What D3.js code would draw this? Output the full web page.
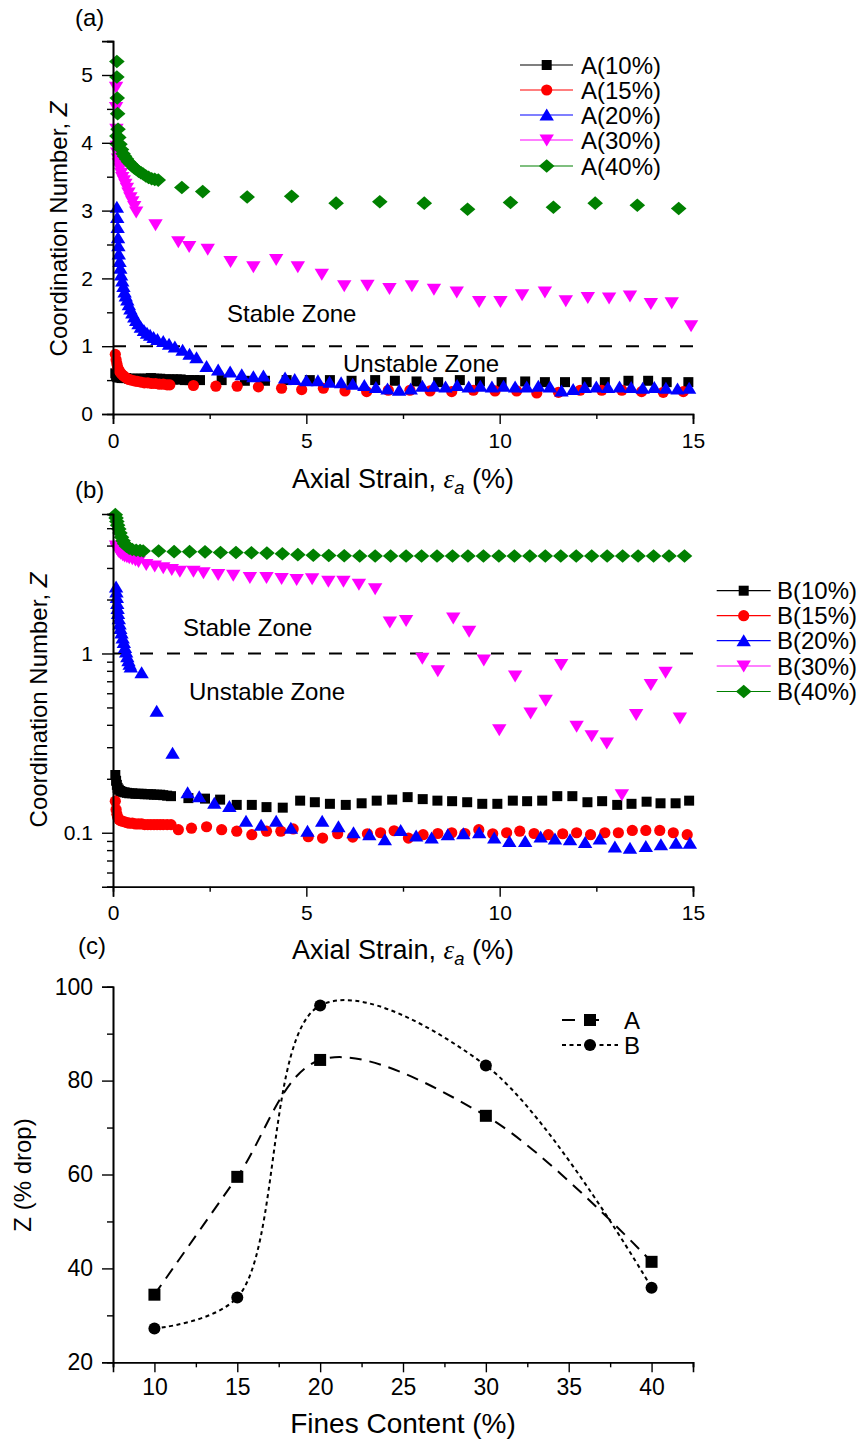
<!DOCTYPE html>
<html><head><meta charset="utf-8">
<script src="https://cdn.jsdelivr.net/npm/d3@7"></script>
<style>body{margin:0;background:#fff}svg{display:block}text{font-family:"Liberation Sans",Arial,sans-serif;fill:#000}</style>
</head><body>
<script>
// ---------------- DATA ----------------
// Panel (a): sample A, [axial strain %, coordination number Z]
const A10 = [[0.06,0.6],[0.08,0.57],[0.1,0.55],[0.13,0.54],[0.17,0.54],[0.22,0.53],[0.28,0.53],[0.34,0.53],[0.42,0.52],[0.5,0.52],[0.58,0.52],[0.66,0.52],[0.74,0.52],[0.82,0.52],[0.9,0.52],[0.98,0.53],[1.06,0.52],[1.14,0.52],[1.22,0.52],[1.3,0.51],[1.38,0.51],[1.46,0.51],[1.55,0.51],[1.65,0.51],[1.75,0.51],[1.86,0.5],[1.98,0.5],[2.1,0.5],[2.25,0.5],[2.81,0.5],[3.41,0.49],[3.93,0.49],[4.49,0.5],[5.09,0.5],[5.61,0.5],[6.17,0.49],[6.78,0.5],[7.29,0.49],[7.85,0.48],[8.41,0.47],[8.97,0.5],[9.49,0.48],[10.05,0.47],[10.66,0.48],[11.17,0.47],[11.69,0.47],[12.25,0.47],[12.72,0.47],[13.33,0.49],[13.84,0.49],[14.32,0.47],[14.88,0.47]];
const A15 = [[0.06,0.88],[0.08,0.8],[0.1,0.74],[0.12,0.69],[0.15,0.65],[0.18,0.62],[0.22,0.59],[0.26,0.57],[0.3,0.55],[0.35,0.53],[0.41,0.51],[0.47,0.5],[0.55,0.49],[0.63,0.48],[0.72,0.47],[0.81,0.46],[0.9,0.46],[1.0,0.45],[1.1,0.45],[1.2,0.44],[1.3,0.44],[1.4,0.43],[1.47,0.43],[2.08,0.42],[2.66,0.41],[3.21,0.41],[3.76,0.4],[4.36,0.38],[4.88,0.36],[5.44,0.38],[6.0,0.34],[6.56,0.33],[7.12,0.35],[7.68,0.35],[8.2,0.34],[8.76,0.33],[9.32,0.35],[9.88,0.34],[10.44,0.34],[10.96,0.31],[11.52,0.32],[12.08,0.35],[12.64,0.35],[13.16,0.35],[13.67,0.33],[14.23,0.32],[14.75,0.33]];
const A20 = [[0.1,3.05],[0.11,2.9],[0.12,2.75],[0.13,2.6],[0.14,2.48],[0.15,2.36],[0.17,2.25],[0.19,2.15],[0.21,2.05],[0.24,1.96],[0.27,1.88],[0.3,1.8],[0.33,1.74],[0.37,1.68],[0.41,1.61],[0.45,1.55],[0.5,1.49],[0.55,1.43],[0.6,1.38],[0.66,1.33],[0.72,1.28],[0.8,1.23],[0.88,1.19],[0.96,1.16],[1.05,1.13],[1.15,1.1],[1.3,1.07],[1.45,1.03],[1.6,0.99],[1.8,0.94],[1.98,0.88],[2.16,0.83],[2.42,0.7],[2.72,0.65],[3.03,0.62],[3.33,0.58],[3.63,0.55],[3.89,0.56],[4.45,0.53],[4.7,0.51],[5.0,0.49],[5.3,0.49],[5.6,0.47],[5.9,0.46],[6.2,0.44],[6.5,0.42],[6.8,0.39],[7.1,0.37],[7.4,0.35],[7.7,0.37],[8.0,0.41],[8.3,0.41],[8.6,0.4],[8.9,0.42],[9.2,0.4],[9.5,0.41],[9.8,0.4],[10.1,0.41],[10.4,0.4],[10.7,0.4],[11.0,0.41],[11.3,0.4],[11.6,0.34],[11.9,0.36],[12.2,0.39],[12.5,0.4],[12.8,0.39],[13.1,0.4],[13.4,0.39],[13.7,0.38],[14.0,0.39],[14.3,0.38],[14.6,0.37],[14.9,0.38]];
const A30 = [[0.08,4.82],[0.08,4.52],[0.09,4.2],[0.1,3.95],[0.11,3.85],[0.13,3.76],[0.15,3.69],[0.18,3.62],[0.21,3.55],[0.24,3.49],[0.28,3.44],[0.32,3.39],[0.36,3.33],[0.4,3.26],[0.45,3.19],[0.5,3.13],[0.55,3.06],[0.6,2.98],[1.1,2.79],[1.69,2.54],[1.97,2.47],[2.45,2.43],[3.04,2.25],[3.63,2.17],[4.22,2.28],[4.78,2.17],[5.4,2.06],[5.98,1.89],[6.58,1.9],[7.15,1.85],[7.73,1.89],[8.3,1.84],[8.89,1.8],[9.47,1.66],[10.02,1.66],[10.58,1.76],[11.17,1.8],[11.71,1.67],[12.28,1.72],[12.83,1.71],[13.37,1.74],[13.91,1.63],[14.45,1.64],[14.95,1.3]];
const A40 = [[0.1,5.2],[0.1,4.97],[0.11,4.66],[0.12,4.43],[0.1,4.1],[0.11,3.98],[0.13,4.2],[0.15,4.08],[0.18,3.98],[0.22,3.9],[0.26,3.84],[0.3,3.8],[0.35,3.76],[0.4,3.72],[0.45,3.69],[0.5,3.66],[0.55,3.63],[0.6,3.61],[0.66,3.58],[0.72,3.56],[0.78,3.54],[0.85,3.51],[0.92,3.49],[1.0,3.47],[1.08,3.46],[1.17,3.45],[1.78,3.34],[2.32,3.28],[3.47,3.2],[4.62,3.21],[5.77,3.11],[6.9,3.13],[8.05,3.11],[9.17,3.02],[10.28,3.12],[11.39,3.05],[12.47,3.11],[13.56,3.08],[14.63,3.03]];
// Panel (b): sample B
const B10 = [[0.06,0.21],[0.08,0.195],[0.1,0.185],[0.12,0.178],[0.15,0.174],[0.19,0.171],[0.24,0.169],[0.3,0.168],[0.36,0.167],[0.42,0.166],[0.5,0.166],[0.58,0.165],[0.66,0.165],[0.74,0.165],[0.82,0.164],[0.9,0.164],[0.98,0.164],[1.06,0.163],[1.14,0.163],[1.22,0.163],[1.3,0.162],[1.4,0.161],[1.5,0.16],[1.95,0.156],[2.38,0.155],[2.77,0.153],[3.2,0.143],[3.59,0.143],[3.97,0.139],[4.39,0.138],[4.84,0.151],[5.22,0.148],[5.61,0.145],[6.02,0.143],[6.43,0.146],[6.82,0.151],[7.22,0.153],[7.62,0.158],[8.01,0.154],[8.39,0.151],[8.77,0.15],[9.16,0.148],[9.55,0.145],[9.94,0.145],[10.34,0.151],[10.71,0.15],[11.1,0.151],[11.49,0.16],[11.88,0.16],[12.27,0.148],[12.65,0.15],[13.04,0.143],[13.41,0.145],[13.8,0.149],[14.16,0.146],[14.55,0.146],[14.9,0.151]];
const B15 = [[0.06,0.15],[0.08,0.135],[0.1,0.127],[0.12,0.122],[0.15,0.119],[0.19,0.117],[0.24,0.116],[0.3,0.115],[0.36,0.114],[0.42,0.113],[0.5,0.113],[0.58,0.112],[0.66,0.112],[0.74,0.112],[0.82,0.111],[0.9,0.111],[0.98,0.111],[1.06,0.111],[1.14,0.111],[1.22,0.111],[1.3,0.111],[1.4,0.111],[1.5,0.111],[1.69,0.104],[2.03,0.106],[2.42,0.108],[2.81,0.104],[3.2,0.102],[3.59,0.0975],[3.97,0.102],[4.34,0.102],[4.66,0.105],[5.05,0.095],[5.42,0.0934],[5.81,0.0987],[6.2,0.0946],[6.58,0.0987],[6.92,0.1],[7.27,0.1026],[7.64,0.0934],[8.02,0.0975],[8.4,0.099],[8.76,0.1],[9.1,0.099],[9.46,0.104],[9.82,0.0987],[10.18,0.1],[10.52,0.102],[10.89,0.099],[11.26,0.0975],[11.63,0.0987],[11.99,0.1],[12.35,0.0975],[12.72,0.1],[13.07,0.1],[13.43,0.103],[13.78,0.103],[14.14,0.103],[14.49,0.1],[14.85,0.0975]];
const B20 = [[0.08,2.35],[0.09,2.2],[0.1,2.05],[0.11,1.9],[0.12,1.78],[0.13,1.67],[0.15,1.56],[0.17,1.46],[0.19,1.38],[0.22,1.3],[0.25,1.22],[0.28,1.15],[0.31,1.08],[0.34,1.02],[0.37,0.96],[0.4,0.91],[0.43,0.87],[0.46,0.84],[0.74,0.78],[1.13,0.476],[1.54,0.278],[1.93,0.167],[2.23,0.159],[2.62,0.146],[3.01,0.14],[3.44,0.116],[3.83,0.11],[4.22,0.116],[4.6,0.106],[5.03,0.102],[5.41,0.116],[5.83,0.108],[6.22,0.1],[6.63,0.0975],[7.03,0.0914],[7.44,0.103],[7.84,0.096],[8.24,0.0934],[8.66,0.0975],[9.06,0.0987],[9.47,0.1],[9.86,0.0934],[10.25,0.0894],[10.66,0.0894],[11.06,0.0946],[11.43,0.0922],[11.82,0.0914],[12.21,0.0883],[12.59,0.0922],[12.98,0.0832],[13.37,0.082],[13.78,0.0838],[14.17,0.0857],[14.56,0.0875],[14.92,0.0875]];
const B30 = [[0.08,3.98],[0.1,3.85],[0.13,3.75],[0.16,3.68],[0.2,3.62],[0.25,3.56],[0.3,3.5],[0.36,3.46],[0.42,3.42],[0.5,3.38],[0.58,3.32],[0.66,3.26],[0.86,3.14],[1.08,3.08],[1.3,3.01],[1.52,2.94],[1.73,2.88],[2.08,2.88],[2.34,2.82],[2.72,2.76],[3.11,2.73],[3.54,2.65],[3.97,2.65],[4.36,2.62],[4.75,2.59],[5.15,2.61],[5.57,2.53],[5.96,2.53],[6.36,2.43],[6.78,2.3],[7.16,1.5],[7.58,1.53],[8.0,0.94],[8.4,0.8],[8.8,1.58],[9.21,1.33],[9.59,0.92],[9.99,0.376],[10.4,0.75],[10.8,0.466],[11.19,0.548],[11.59,0.868],[11.99,0.393],[12.38,0.348],[12.77,0.317],[13.16,0.163],[13.53,0.456],[13.91,0.671],[14.29,0.786],[14.66,0.437]];
const B40 = [[0.06,5.95],[0.08,5.7],[0.1,5.45],[0.12,5.2],[0.15,4.95],[0.18,4.7],[0.22,4.45],[0.26,4.25],[0.3,4.1],[0.35,3.97],[0.42,3.87],[0.5,3.8],[0.6,3.77],[0.7,3.75],[0.78,3.73],[1.18,3.73],[1.58,3.7],[1.98,3.7],[2.38,3.69],[2.78,3.66],[3.18,3.66],[3.58,3.65],[3.98,3.63],[4.38,3.6],[4.78,3.56],[5.18,3.53],[5.58,3.52],[5.98,3.51],[6.38,3.5],[6.78,3.5],[7.18,3.5],[7.58,3.5],[7.98,3.5],[8.38,3.5],[8.78,3.5],[9.18,3.5],[9.58,3.5],[9.98,3.5],[10.38,3.5],[10.78,3.5],[11.18,3.5],[11.58,3.5],[11.98,3.5],[12.38,3.5],[12.78,3.5],[13.18,3.5],[13.58,3.5],[13.98,3.5],[14.38,3.5],[14.78,3.5]];
// Panel (c): % drop of Z vs fines content
const finesContent = [10, 15, 20, 30, 40];
const dropA = [34.4, 59.5, 84.4, 72.5, 41.4];
const dropB = [27.2, 33.8, 96.0, 83.2, 35.9];
// Labels
const namesA = ["A(10%)","A(15%)","A(20%)","A(30%)","A(40%)"];
const namesB = ["B(10%)","B(15%)","B(20%)","B(30%)","B(40%)"];
const strainTicks = [0, 5, 10, 15];
const zTicksA = [0, 1, 2, 3, 4, 5];
const zTicksB = [0.1, 1];
const finesTicks = [10, 15, 20, 25, 30, 35, 40];
const dropTicks = [20, 40, 60, 80, 100];

// ---------------- STYLE ----------------
const colors = ["#000000","#ff0000","#0000ff","#ff00ff","#008000"];
const shapes = ["square","circle","up","down","diamond"];
function markerPath(shape){
  switch(shape){
    case "square": return "M-5,-5H5V5H-5Z";
    case "circle": return "M5.6,0A5.6,5.6 0 1,1 -5.6,0A5.6,5.6 0 1,1 5.6,0Z";
    case "up": return "M0,-6.5L7.2,5.5L-7.2,5.5Z";
    case "down": return "M0,6.5L7.2,-5.5L-7.2,-5.5Z";
    case "diamond": return "M0,-6.8L7.8,0L0,6.8L-7.8,0Z";
  }
}
const svg = d3.select("body").append("svg").attr("width",862).attr("height",1443);

function axes(g, x, y, opt){
  const ax = d3.axisBottom(x).tickValues(opt.xt).tickSize(10).tickPadding(opt.xpad).tickFormat(d3.format("d"));
  const gx = g.append("g").attr("transform",`translate(0,${opt.y0})`).call(ax);
  g.append("g").attr("transform",`translate(0,${opt.y0})`).call(d3.axisBottom(x).tickValues(opt.xm).tickSize(5).tickFormat(""));
  const ay = d3.axisLeft(y).tickValues(opt.yt).tickSize(11).tickPadding(9).tickFormat(opt.yf);
  const gy = g.append("g").attr("transform",`translate(${opt.x0},0)`).call(ay);
  g.append("g").attr("transform",`translate(${opt.x0},0)`).call(d3.axisLeft(y).tickValues(opt.ym).tickSize(6).tickFormat(""));
  g.selectAll(".domain").attr("stroke","#000").attr("stroke-width",1.6);
  g.selectAll(".tick line").attr("stroke","#000").attr("stroke-width",1.4);
  gx.selectAll("text").attr("font-size",opt.fs).attr("font-family","Liberation Sans, Arial");
  gy.selectAll("text").attr("font-size",opt.fs).attr("font-family","Liberation Sans, Arial");
}

function series(g, x, y, data, i){
  g.append("g").selectAll("path").data(data).join("path")
    .attr("d", markerPath(shapes[i]))
    .attr("transform", d=>`translate(${x(d[0])},${y(d[1])})`)
    .attr("fill", colors[i]);
}

function legend(g, names, lx0, lx1, mx, tx, ys){
  names.forEach((n,i)=>{
    g.append("line").attr("x1",lx0).attr("x2",lx1).attr("y1",ys[i]).attr("y2",ys[i]).attr("stroke",colors[i]).attr("stroke-width",1.2);
    g.append("path").attr("d",markerPath(shapes[i])).attr("transform",`translate(${mx},${ys[i]})`).attr("fill",colors[i]);
    g.append("text").attr("x",tx).attr("y",ys[i]).attr("dy","0.36em").attr("font-size",24).text(n);
  });
}

function xTitle(g, cx, by, fs){
  const t = g.append("text").attr("x",cx).attr("y",by).attr("text-anchor","middle").attr("font-size",fs);
  t.append("tspan").text("Axial Strain, ");
  t.append("tspan").attr("font-family","Liberation Serif, Times New Roman, serif").attr("font-style","italic").text("ε");
  t.append("tspan").attr("font-style","italic").attr("font-size",fs*0.68).attr("dy","0.3em").text("a");
  t.append("tspan").attr("dy",`-${0.3*fs*0.68}px`).text(" (%)");
}
function yTitle(g, x, cy, fs){
  const t = g.append("text").attr("transform",`translate(${x},${cy}) rotate(-90)`).attr("text-anchor","middle").attr("font-size",fs);
  t.append("tspan").text("Coordination Number, ");
  t.append("tspan").attr("font-style","italic").text("Z");
}

// ---------------- PANEL (a) ----------------
{
  const g = svg.append("g");
  const x = d3.scaleLinear().domain([0,15]).range([113,693]);
  const y = d3.scaleLinear().domain([0,5.5]).range([414,41.1]);
  const data = [A10,A15,A20,A30,A40];
  g.append("line").attr("x1",x(0)).attr("x2",x(15.25)).attr("y1",y(1)).attr("y2",y(1)).attr("stroke","#000").attr("stroke-width",2).attr("stroke-dasharray","13,14");
  data.forEach((d,i)=>series(g,x,y,d,i));
  axes(g,x,y,{xt:strainTicks,xm:[2.5,7.5,12.5],yt:zTicksA,ym:[0.5,1.5,2.5,3.5,4.5,5.5],yf:d3.format("d"),y0:414,x0:113,xpad:9,fs:21});
  g.append("text").attr("x",75).attr("y",26).attr("font-size",24).text("(a)");
  g.append("text").attr("x",227).attr("y",322).attr("font-size",24).text("Stable Zone");
  g.append("text").attr("x",343).attr("y",372).attr("font-size",24).text("Unstable Zone");
  xTitle(g,403,488,27);
  yTitle(g,67,229,24);
  legend(g,namesA,520,573,546.7,581,[65,90,115,140,166]);
}

// ---------------- PANEL (b) ----------------
{
  const g = svg.append("g");
  const x = d3.scaleLinear().domain([0,15]).range([113,693]);
  const y = d3.scaleLog().domain([0.05,6]).range([886.7,514]);
  const data = [B10,B15,B20,B30,B40];
  g.append("line").attr("x1",x(0)).attr("x2",x(15)).attr("y1",y(1)).attr("y2",y(1)).attr("stroke","#000").attr("stroke-width",2).attr("stroke-dasharray","13,14");
  data.forEach((d,i)=>series(g,x,y,d,i));
  axes(g,x,y,{xt:strainTicks,xm:[2.5,7.5,12.5],yt:zTicksB,ym:[0.05,0.06,0.07,0.08,0.09,0.2,0.3,0.4,0.5,0.6,0.7,0.8,0.9,2,3,4,5,6],yf:d=>d===1?"1":"0.1",y0:886.7,x0:113,xpad:8,fs:21});
  g.append("text").attr("x",75).attr("y",498).attr("font-size",24).text("(b)");
  g.append("text").attr("x",183).attr("y",636).attr("font-size",24).text("Stable Zone");
  g.append("text").attr("x",189).attr("y",700).attr("font-size",24).text("Unstable Zone");
  xTitle(g,403,959,27);
  yTitle(g,47,700,24);
  legend(g,namesB,716.7,770.7,743.7,777,[590.7,615.7,640.7,666,691.5]);
}

// ---------------- PANEL (c) ----------------
{
  const g = svg.append("g");
  const x = d3.scaleLinear().domain([7.5,42.5]).range([113,693]);
  const y = d3.scaleLinear().domain([20,100]).range([1362.3,986.7]);
  const ptsA = finesContent.map((f,i)=>[f,dropA[i]]);
  const ptsB = finesContent.map((f,i)=>[f,dropB[i]]);
  const line = d3.line().x(d=>x(d[0])).y(d=>y(d[1])).curve(d3.curveCatmullRom.alpha(0.5));
  g.append("path").attr("d",line(ptsA)).attr("fill","none").attr("stroke","#000").attr("stroke-width",2).attr("stroke-dasharray","12,8");
  g.append("path").attr("d",line(ptsB)).attr("fill","none").attr("stroke","#000").attr("stroke-width",2).attr("stroke-dasharray","4,3.5");
  g.selectAll(".mA").data(ptsA).join("path").attr("d","M-6,-6H6V6H-6Z").attr("transform",d=>`translate(${x(d[0])},${y(d[1])})`).attr("fill","#000");
  g.selectAll(".mB").data(ptsB).join("path").attr("d","M6,0A6,6 0 1,1 -6,0A6,6 0 1,1 6,0Z").attr("transform",d=>`translate(${x(d[0])},${y(d[1])})`).attr("fill","#000");
  axes(g,x,y,{xt:finesTicks,xm:[7.5,12.5,17.5,22.5,27.5,32.5,37.5,42.5],yt:dropTicks,ym:[30,50,70,90],yf:d3.format("d"),y0:1362.3,x0:113,xpad:6,fs:23});
  g.append("text").attr("x",78).attr("y",954).attr("font-size",24).text("(c)");
  g.append("text").attr("x",403).attr("y",1433).attr("text-anchor","middle").attr("font-size",28).text("Fines Content (%)");
  g.append("text").attr("transform","translate(31,1175) rotate(-90)").attr("text-anchor","middle").attr("font-size",24).text("Z (% drop)");
  // legend
  g.append("line").attr("x1",562).attr("x2",610).attr("y1",1020).attr("y2",1020).attr("stroke","#000").attr("stroke-width",2).attr("stroke-dasharray","13,11");
  g.append("path").attr("d","M-6,-6H6V6H-6Z").attr("transform","translate(590,1020)").attr("fill","#000");
  g.append("text").attr("x",624).attr("y",1020).attr("dy","0.36em").attr("font-size",24).text("A");
  g.append("line").attr("x1",562).attr("x2",618).attr("y1",1045).attr("y2",1045).attr("stroke","#000").attr("stroke-width",2).attr("stroke-dasharray","4,3.5");
  g.append("path").attr("d","M6,0A6,6 0 1,1 -6,0A6,6 0 1,1 6,0Z").attr("transform","translate(590,1045)").attr("fill","#000");
  g.append("text").attr("x",624).attr("y",1045).attr("dy","0.36em").attr("font-size",24).text("B");
}
</script>
</body></html>
